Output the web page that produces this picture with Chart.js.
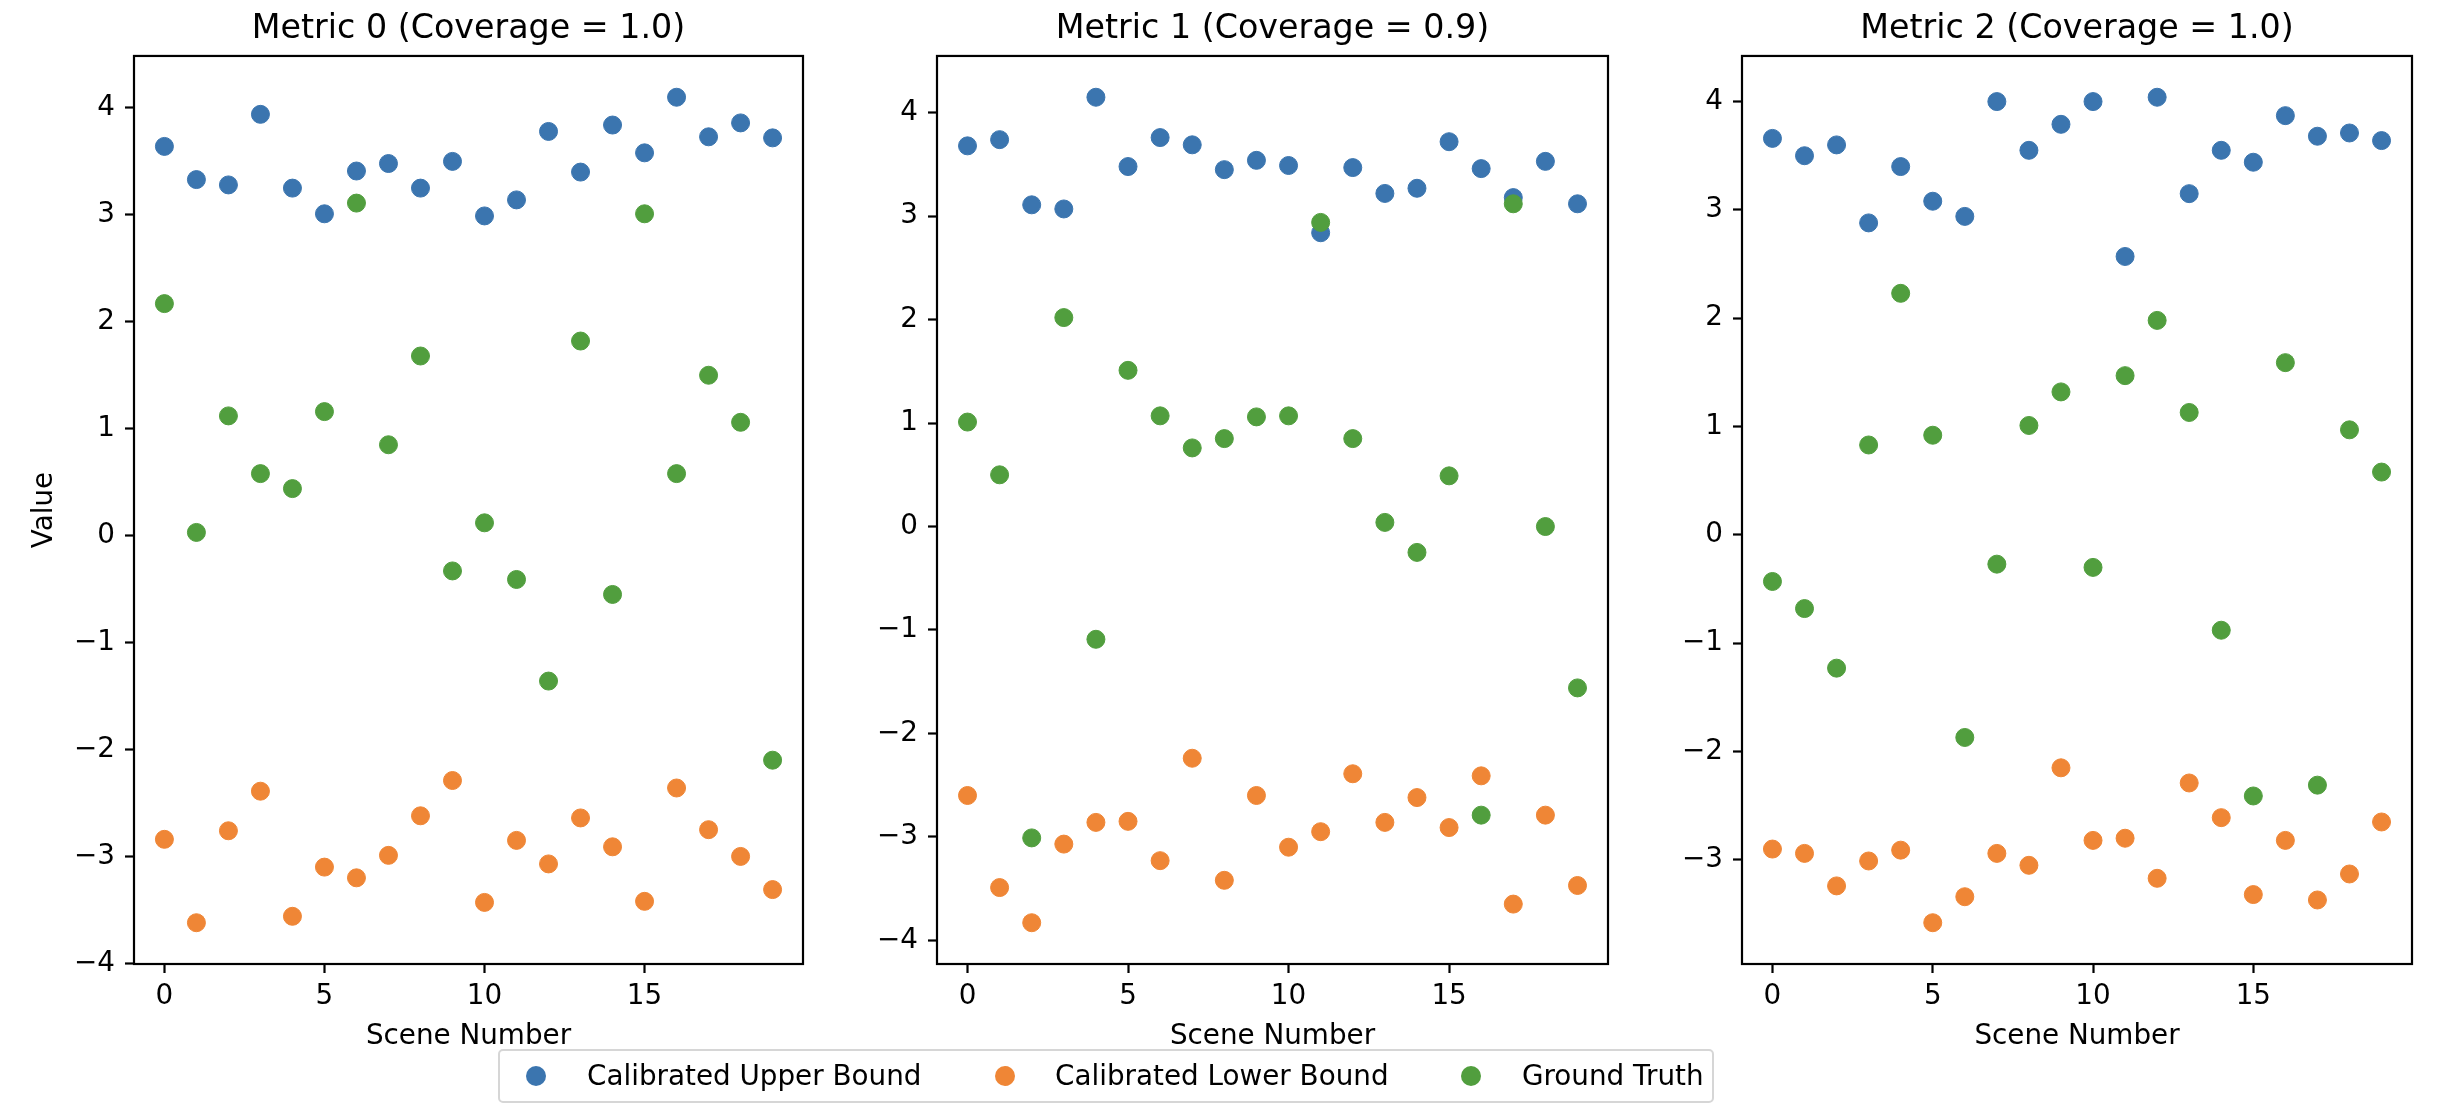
<!DOCTYPE html>
<html>
<head>
<meta charset="utf-8">
<script src="https://cdn.jsdelivr.net/npm/chart.js@4.4.0/dist/chart.umd.min.js"></script>
<style>
    body { margin: 0; background: #fff; width: 2454px; height: 1114px; overflow: hidden; position: relative; font-family: "DejaVu Sans", sans-serif; }
    canvas { position: absolute; top: 0; }
    #legend { position: absolute; left: 498px; top: 1049px; width: 1212px; height: 50px; border: 2px solid #d6d6d6; border-radius: 5px; }
    #legend .dot { position: absolute; width: 20px; height: 20px; border-radius: 50%; top: 15px; }
    #legend .label { position: absolute; top: 0; line-height: 50px; font-size: 27.8px; color: #000; white-space: nowrap; }
</style>
</head>
<body>
<canvas id="metric0" width="820" height="1053" style="left:0px"></canvas>
<canvas id="metric1" width="800" height="1053" style="left:820px"></canvas>
<canvas id="metric2" width="834" height="1053" style="left:1620px"></canvas>
<div id="legend"></div>
<script>
// scene numbers along the x axis
var scenes = [0, 1, 2, 3, 4, 5, 6, 7, 8, 9, 10, 11, 12, 13, 14, 15, 16, 17, 18, 19];
var xTicks = [0, 5, 10, 15];

var titles = ['Metric 0 (Coverage = 1.0)', 'Metric 1 (Coverage = 0.9)', 'Metric 2 (Coverage = 1.0)'];
var seriesNames = ['Calibrated Upper Bound', 'Calibrated Lower Bound', 'Ground Truth'];

// metric 0
var upper0 = [3.64, 3.33, 3.28, 3.94, 3.25, 3.01, 3.41, 3.48, 3.25, 3.50, 2.99, 3.14, 3.78, 3.40, 3.84, 3.58, 4.10, 3.73, 3.86, 3.72];
var lower0 = [-2.84, -3.62, -2.76, -2.39, -3.56, -3.10, -3.20, -2.99, -2.62, -2.29, -3.43, -2.85, -3.07, -2.64, -2.91, -3.42, -2.36, -2.75, -3.00, -3.31];
var truth0 = [2.17, 0.03, 1.12, 0.58, 0.44, 1.16, 3.11, 0.85, 1.68, -0.33, 0.12, -0.41, -1.36, 1.82, -0.55, 3.01, 0.58, 1.50, 1.06, -2.10];

// metric 1
var upper1 = [3.68, 3.74, 3.11, 3.07, 4.15, 3.48, 3.76, 3.69, 3.45, 3.54, 3.49, 2.84, 3.47, 3.22, 3.27, 3.72, 3.46, 3.18, 3.53, 3.12];
var lower1 = [-2.60, -3.49, -3.83, -3.07, -2.86, -2.85, -3.23, -2.24, -3.42, -2.60, -3.10, -2.95, -2.39, -2.86, -2.62, -2.91, -2.41, -3.65, -2.79, -3.47];
var truth1 = [1.01, 0.50, -3.01, 2.02, -1.09, 1.51, 1.07, 0.76, 0.85, 1.06, 1.07, 2.94, 0.85, 0.04, -0.25, 0.49, -2.79, 3.12, 0.00, -1.56];

// metric 2
var upper2 = [3.66, 3.50, 3.60, 2.88, 3.40, 3.08, 2.94, 4.00, 3.55, 3.79, 4.00, 2.57, 4.04, 3.15, 3.55, 3.44, 3.87, 3.68, 3.71, 3.64];
var lower2 = [-2.90, -2.94, -3.24, -3.01, -2.91, -3.58, -3.34, -2.94, -3.05, -2.15, -2.82, -2.80, -3.17, -2.29, -2.61, -3.32, -2.82, -3.37, -3.13, -2.65];
var truth2 = [-0.43, -0.68, -1.23, 0.83, 2.23, 0.92, -1.87, -0.27, 1.01, 1.32, -0.30, 1.47, 1.98, 1.13, -0.88, -2.41, 1.59, -2.31, 0.97, 0.58];

var colors = ['#3b75af', '#ef8636', '#519e3e'];

var FONT = 'DejaVu Sans';
var TICK_SIZE = 27.8;
var TITLE_SIZE = 33.3;
var LINE = 2.2;

var toPoints = function (values) {
    return values.map(function (v, i) { return { x: scenes[i], y: v }; });
};

var minusSign = function (value) {
    return value < 0 ? '\u2212' + Math.abs(value) : '' + value;
};

var framePlugin = {
    id: 'frame',
    afterDatasetsDraw: function (chart) {
        var a = chart.chartArea;
        var ctx = chart.ctx;
        ctx.save();
        ctx.strokeStyle = '#000';
        ctx.lineWidth = LINE;
        ctx.strokeRect(a.left, a.top, a.right - a.left, a.bottom - a.top);
        ctx.restore();
    }
};

var makeChart = function (id, title, upper, lower, truth, yWidth, padRight, showYTitle) {
    // matplotlib style 5% margins around the data
    var all = upper.concat(lower, truth);
    var lo = Math.min.apply(null, all);
    var hi = Math.max.apply(null, all);
    var m = (hi - lo) * 0.05;
    var xm = (scenes[scenes.length - 1] - scenes[0]) * 0.05;

    var tickGrid = { display: true, drawOnChartArea: false, drawTicks: true, tickLength: 9, tickWidth: LINE, tickColor: '#000' };

    var ctx = document.getElementById(id).getContext('2d');
    return new Chart(ctx, {
        type: 'scatter',
        data: {
            datasets: [
                { label: seriesNames[0], data: toPoints(upper), backgroundColor: colors[0], borderColor: colors[0], order: 3 },
                { label: seriesNames[1], data: toPoints(lower), backgroundColor: colors[1], borderColor: colors[1], order: 2 },
                { label: seriesNames[2], data: toPoints(truth), backgroundColor: colors[2], borderColor: colors[2], order: 1 }
            ]
        },
        options: {
            responsive: false,
            animation: false,
            devicePixelRatio: 1,
            elements: { point: { radius: 9, borderWidth: 1, hoverRadius: 9 } },
            layout: { padding: { left: 0, right: padRight, top: 0, bottom: 0 } },
            plugins: {
                legend: { display: false },
                tooltip: { enabled: false },
                title: {
                    display: true,
                    fullSize: false,  // centre over the plot area, like matplotlib
                    text: title,
                    color: '#000',
                    font: { family: FONT, size: TITLE_SIZE, weight: 'normal' },
                    padding: { top: 9, bottom: 7 }
                }
            },
            scales: {
                x: {
                    type: 'linear',
                    min: scenes[0] - xm,
                    max: scenes[scenes.length - 1] + xm,
                    grid: tickGrid,
                    border: { display: false },
                    afterBuildTicks: function (scale) {
                        scale.ticks = xTicks.map(function (v) { return { value: v }; });
                    },
                    afterFit: function (scale) { scale.height = 89; },
                    ticks: {
                        color: '#000',
                        padding: 7.5,
                        maxRotation: 0,
                        font: { family: FONT, size: TICK_SIZE },
                        callback: minusSign
                    },
                    title: {
                        display: true,
                        text: 'Scene Number',
                        color: '#000',
                        font: { family: FONT, size: TICK_SIZE },
                        padding: { top: 0, bottom: 0 }
                    }
                },
                y: {
                    type: 'linear',
                    min: lo - m,
                    max: hi + m,
                    grid: tickGrid,
                    border: { display: false },
                    afterFit: function (scale) { scale.width = yWidth; },
                    ticks: {
                        color: '#000',
                        padding: 10,
                        stepSize: 1,
                        includeBounds: false,
                        font: { family: FONT, size: TICK_SIZE },
                        callback: minusSign
                    },
                    title: {
                        display: showYTitle,
                        text: 'Value',
                        color: '#000',
                        font: { family: FONT, size: TICK_SIZE },
                        padding: { top: 28, bottom: 0 }
                    }
                }
            }
        },
        plugins: [framePlugin]
    });
};

makeChart('metric0', titles[0], upper0, lower0, truth0, 134, 17, true);
makeChart('metric1', titles[1], upper1, lower1, truth1, 117, 12, false);
makeChart('metric2', titles[2], upper2, lower2, truth2, 122, 42, false);

// shared legend under the three panels
var legend = document.getElementById('legend');
var dotX = [36, 505, 971];
var labelX = [87, 555, 1022];
seriesNames.forEach(function (name, i) {
    var dot = document.createElement('div');
    dot.className = 'dot';
    dot.style.left = (dotX[i] - 10) + 'px';
    dot.style.background = colors[i];
    legend.appendChild(dot);
    var label = document.createElement('span');
    label.className = 'label';
    label.style.left = labelX[i] + 'px';
    label.textContent = name;
    legend.appendChild(label);
});
</script>
</body>
</html>
